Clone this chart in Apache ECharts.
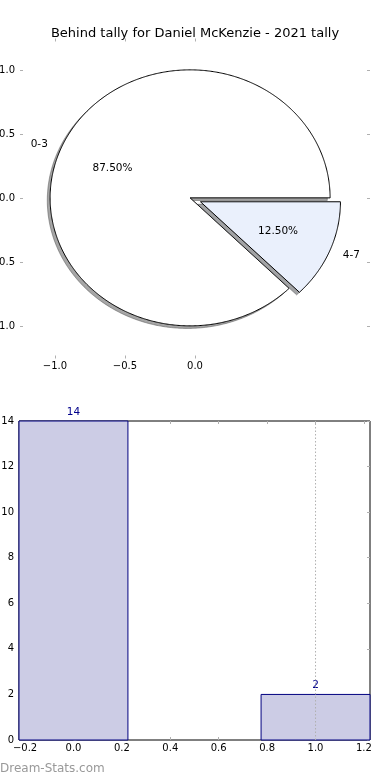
<!DOCTYPE html>
<html>
<head>
<meta charset="utf-8">
<script src="https://cdn.jsdelivr.net/npm/echarts@6/dist/echarts.min.js"></script>
<style>
html,body{margin:0;padding:0;background:#fff;}
#chart{width:390px;height:780px;}
#err{position:absolute;left:0;top:300px;font:9px monospace;color:red;white-space:pre-wrap;width:390px;}
</style>
</head>
<body>
<div id="chart"></div>
<div id="err"></div>
<script>
// ---------- data ----------
const chartTitle = 'Behind tally for Daniel McKenzie - 2021 tally';
const pieLabels = ['0-3', '4-7'];
const pieValues = [14, 2];
const pieExplode = [0, 0.08];
const pieColors = ['#ffffff', '#eaf0fc'];
const pieXTicks = [-1.0, -0.5, 0.0];
const pieYTicks = [-1.0, -0.5, 0.0, 0.5, 1.0];

const barX = [0, 1];
const barValues = [14, 2];
const barXTicks = [-0.2, 0.0, 0.2, 0.4, 0.6, 0.8, 1.0, 1.2];
const barYTicks = [0, 2, 4, 6, 8, 10, 12, 14];
const gridLineX = [1.0];
const watermark = 'Dream-Stats.com';

// ---------- layout / style constants ----------
const FONT = 'DejaVu Sans';
const PIE_R = 1;
const PIE_CENTER = [-0.035, 0.005];
const START_ANGLE = 0;
const BAR_HALF = 0.225;
const TICK_COLOR = '#b0b0b0';

const fmt1 = v => (Math.abs(v) < 1e-9 ? 0 : v).toFixed(1).replace('-', '\u2212');

function pieItem(params, api) {
  const i = params.dataIndex;
  const total = pieValues.reduce((a, b) => a + b, 0);
  let cum = 0;
  for (let k = 0; k < i; k++) cum += pieValues[k];
  const t1 = START_ANGLE + 360 * cum / total;
  const t2 = START_ANGLE + 360 * (cum + pieValues[i]) / total;
  const mid = (t1 + t2) / 2 * Math.PI / 180;
  const ex = pieExplode[i];
  const cx = PIE_CENTER[0] + ex * Math.cos(mid);
  const cy = PIE_CENTER[1] + ex * Math.sin(mid);
  function pts(dx, dy) {
    const p = [api.coord([cx + dx, cy + dy])];
    const n = Math.max(4, Math.ceil((t2 - t1) * 2));
    for (let s = 0; s <= n; s++) {
      const a = (t1 + (t2 - t1) * s / n) * Math.PI / 180;
      p.push(api.coord([cx + dx + PIE_R * Math.cos(a), cy + dy + PIE_R * Math.sin(a)]));
    }
    return p;
  }
  const col = echarts.color.parse(pieColors[i]);
  const sh = 'rgba(' + Math.round(col[0] * 0.3) + ',' + Math.round(col[1] * 0.3) + ',' + Math.round(col[2] * 0.3) + ',0.5)';
  const lblPos = api.coord([cx + 1.1 * PIE_R * Math.cos(mid), cy + 1.1 * PIE_R * Math.sin(mid)]);
  const pctPos = api.coord([cx + 0.6 * PIE_R * Math.cos(mid), cy + 0.6 * PIE_R * Math.sin(mid)]);
  return {
    type: 'group',
    children: [
      {type: 'polygon', shape: {points: pts(-0.02, -0.02)}, style: {fill: sh, stroke: sh, lineWidth: 1}},
      {type: 'polygon', shape: {points: pts(0, 0)}, style: {fill: pieColors[i], stroke: '#000', lineWidth: 1}},
      {type: 'text', x: lblPos[0], y: lblPos[1], style: {
        text: pieLabels[i], fill: '#000', font: '10.5px ' + FONT,
        align: Math.cos(mid) > 0 ? 'left' : 'right', verticalAlign: 'middle'}},
      {type: 'text', x: pctPos[0], y: pctPos[1], style: {
        text: (100 * pieValues[i] / total).toFixed(2) + '%', fill: '#000', font: '10.5px ' + FONT,
        align: 'center', verticalAlign: 'middle'}}
    ]
  };
}

function barItem(params, api) {
  const x = api.value(0), v = api.value(1);
  const p0 = api.coord([x - BAR_HALF, v]);
  const p1 = api.coord([x + BAR_HALF, 0]);
  const top = api.coord([x, v]);
  return {
    type: 'group',
    children: [
      {type: 'rect', shape: {x: p0[0], y: p0[1], width: p1[0] - p0[0], height: p1[1] - p0[1]},
        style: {fill: '#ccccE5', stroke: '#000080', lineWidth: 1}},
      {type: 'text', x: top[0], y: top[1] - 9, style: {
        text: String(v), fill: '#00008b', font: '10.5px ' + FONT, align: 'center', verticalAlign: 'middle'}}
    ]
  };
}

function gridLineItem(params, api) {
  const x = api.value(0);
  const a = api.coord([x, barYTicks[0]]);
  const b = api.coord([x, barYTicks[barYTicks.length - 1]]);
  return {type: 'line', shape: {x1: a[0], y1: a[1], x2: b[0], y2: b[1]},
    style: {stroke: '#b0b0b0', lineWidth: 1, lineDash: [1.5, 2]}};
}

const tickStyle = {show: true, inside: true, length: 3, lineStyle: {color: TICK_COLOR, width: 1}};
const labelStyle = {color: '#000', fontSize: 10, fontFamily: FONT};
const hidden = {axisLine: {show: false}, axisTick: {show: false}, axisLabel: {show: false}, splitLine: {show: false}};
const gridBase = {containLabel: false, outerBoundsMode: 'none'};

const BW = 351, BL = 19;
const bScale = BW / (1.225 + 0.225);
const bTickLeft = BL + (barXTicks[0] + 0.225) * bScale;
const bTickWidth = (barXTicks[barXTicks.length - 1] - barXTicks[0]) * bScale;

const option = {
  animation: false,
  backgroundColor: '#fff',
  textStyle: {fontFamily: FONT},
  title: {
    text: chartTitle, left: 'center', top: 22,
    textStyle: {fontSize: 13, fontWeight: 'normal', color: '#000', fontFamily: FONT}
  },
  grid: [
    Object.assign({left: 20, top: 38.5, width: 350, height: 320}, gridBase),
    Object.assign({left: 20, top: 70.5, width: 350, height: 256}, gridBase),
    Object.assign({left: 55, top: 38.5, width: 140, height: 320}, gridBase),
    Object.assign({left: BL, top: 421, width: BW, height: 319,
      show: true, borderColor: '#000', borderWidth: 1, backgroundColor: 'transparent'}, gridBase),
    Object.assign({left: bTickLeft, top: 421, width: bTickWidth, height: 319}, gridBase)
  ],
  xAxis: [
    Object.assign({gridIndex: 0, type: 'value', min: -1.25, max: 1.25}, hidden),
    {gridIndex: 2, type: 'value', position: 'bottom', min: pieXTicks[0], max: pieXTicks[pieXTicks.length - 1], interval: 0.5,
      axisLine: {show: false}, splitLine: {show: false}, axisTick: tickStyle,
      axisLabel: Object.assign({margin: 3, formatter: fmt1}, labelStyle)},
    {gridIndex: 2, type: 'value', position: 'top', min: pieXTicks[0], max: pieXTicks[pieXTicks.length - 1], interval: 0.5,
      axisLine: {show: false}, splitLine: {show: false}, axisTick: tickStyle, axisLabel: {show: false}},
    Object.assign({gridIndex: 3, type: 'value', min: -0.225, max: 1.225}, hidden),
    {gridIndex: 4, type: 'value', position: 'bottom', min: barXTicks[0], max: barXTicks[barXTicks.length - 1], interval: 0.2,
      axisLine: {show: false}, splitLine: {show: false}, axisTick: tickStyle,
      axisLabel: Object.assign({margin: 3, formatter: fmt1}, labelStyle)},
    {gridIndex: 4, type: 'value', position: 'top', min: barXTicks[0], max: barXTicks[barXTicks.length - 1], interval: 0.2,
      axisLine: {show: false}, splitLine: {show: false}, axisTick: tickStyle, axisLabel: {show: false}},
    Object.assign({gridIndex: 1, type: 'value', min: 0, max: 1}, hidden)
  ],
  yAxis: [
    Object.assign({gridIndex: 0, type: 'value', min: -1.25, max: 1.25}, hidden),
    {gridIndex: 1, type: 'value', position: 'left', min: pieYTicks[0], max: pieYTicks[pieYTicks.length - 1], interval: 0.5,
      axisLine: {show: false}, splitLine: {show: false}, axisTick: tickStyle,
      axisLabel: Object.assign({margin: 5, formatter: fmt1}, labelStyle)},
    {gridIndex: 1, type: 'value', position: 'right', min: pieYTicks[0], max: pieYTicks[pieYTicks.length - 1], interval: 0.5,
      axisLine: {show: false}, splitLine: {show: false}, axisTick: tickStyle, axisLabel: {show: false}},
    {gridIndex: 3, type: 'value', position: 'left', min: barYTicks[0], max: barYTicks[barYTicks.length - 1], interval: 2,
      axisLine: {show: false}, splitLine: {show: false}, axisTick: tickStyle,
      axisLabel: Object.assign({margin: 5}, labelStyle)},
    {gridIndex: 3, type: 'value', position: 'right', min: barYTicks[0], max: barYTicks[barYTicks.length - 1], interval: 2,
      axisLine: {show: false}, splitLine: {show: false}, axisTick: tickStyle, axisLabel: {show: false}},
    Object.assign({gridIndex: 2, type: 'value', min: 0, max: 1}, hidden),
    Object.assign({gridIndex: 4, type: 'value', min: 0, max: 1}, hidden)
  ],
  graphic: [
    {type: 'text', left: 0, top: 763, style: {text: watermark, fill: '#999', font: '12px ' + FONT}}
  ],
  series: [
    {type: 'custom', xAxisIndex: 0, yAxisIndex: 0, renderItem: pieItem,
      data: pieValues.map(v => [0, 0, v]), silent: true, clip: false},
    {type: 'custom', xAxisIndex: 3, yAxisIndex: 3, renderItem: barItem,
      data: barX.map((x, i) => [x, barValues[i]]), silent: true},
    {type: 'custom', xAxisIndex: 3, yAxisIndex: 3, renderItem: gridLineItem,
      data: gridLineX.map(x => [x, 0]), silent: true, z: 5}
  ]
};
try {
  const chart = echarts.init(document.getElementById('chart'), null, {renderer: 'canvas'});
  chart.setOption(option);
} catch (e) {
  document.getElementById('err').textContent = String(e && e.stack || e).slice(0, 400);
}
</script>
</body>
</html>
